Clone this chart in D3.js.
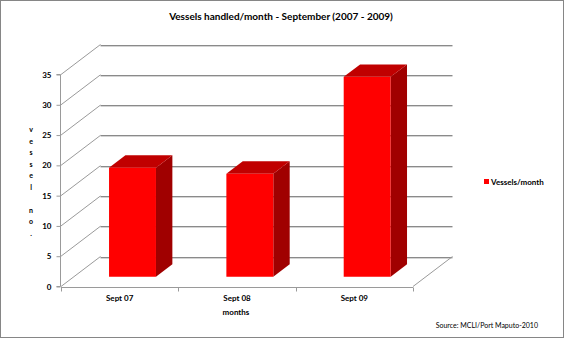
<!DOCTYPE html>
<html>
<head>
<meta charset="utf-8">
<script src="https://cdn.jsdelivr.net/npm/d3@7/dist/d3.min.js"></script>
<style>
  html, body { margin: 0; padding: 0; background: #fff; }
  svg { display: block; font-family: Lato, "Open Sans", "Liberation Sans", sans-serif; }
</style>
</head>
<body>
<svg id="chart" width="564" height="339"></svg>
<script>
// Data
const categories = ["Sept 07", "Sept 08", "Sept 09"];
const vessels = [18, 17, 33];
const yTicks = [0, 5, 10, 15, 20, 25, 30, 35];
const seriesName = "Vessels/month";
const titleText = "Vessels handled/month - September (2007 - 2009)";
const yTitle = "vessel no.";
const xTitle = "months";
const sourceText = "Source: MCLI/Port Maputo-2010";

const svg = d3.select("#chart");
const W = 564, H = 339;

// Outer frame
svg.append("rect")
  .attr("x", 0.5).attr("y", 0.5).attr("width", W - 1).attr("height", H - 2)
  .attr("fill", "#fff").attr("stroke", "#868686").attr("stroke-width", 1);

// 3D frame geometry: front plane and wall depth offset
const depth = { dx: 39.5, dy: -30 };
const x = d3.scaleBand().domain(categories).range([61, 413]).paddingInner(0).paddingOuter(0);
const y = d3.scaleLinear().domain([0, 35]).range([286.5, 74.5]);

const grid = svg.append("g");
const x0 = x.range()[0], x1 = x.range()[1];

// Back wall horizontal gridlines (with light shadow line) and left wall diagonals
yTicks.forEach(v => {
  const yy = Math.round(y(v) + depth.dy) + 0.5;
  grid.append("line")
    .attr("x1", x0 + depth.dx).attr("x2", x1 + depth.dx)
    .attr("y1", yy + 1).attr("y2", yy + 1)
    .attr("stroke", "#d4d4d4").attr("stroke-width", 1);
  grid.append("line")
    .attr("x1", x0 + depth.dx).attr("x2", x1 + depth.dx)
    .attr("y1", yy).attr("y2", yy)
    .attr("stroke", "#8a8a8a").attr("stroke-width", 1);
  grid.append("line")
    .attr("x1", x0).attr("y1", y(v))
    .attr("x2", x0 + depth.dx).attr("y2", y(v) + depth.dy)
    .attr("stroke", "#9a9a9a").attr("stroke-width", 1);
});

// Floor: right edge diagonal
grid.append("line")
  .attr("x1", x1).attr("y1", y(0))
  .attr("x2", x1 + depth.dx).attr("y2", y(0) + depth.dy)
  .attr("stroke", "#9a9a9a").attr("stroke-width", 1);

// Y axis (front left edge) with ticks
const yAxis = d3.axisLeft(y).tickValues(yTicks).tickSize(4).tickPadding(5);
const gy = svg.append("g").attr("transform", "translate(60.5,0)").call(yAxis);
gy.select(".domain").attr("stroke", "#9a9a9a").attr("d", `M-4,${y(0)}H0V${y(35)}H-4`);
gy.selectAll(".tick line").attr("stroke", "#9a9a9a");
gy.selectAll(".tick text")
  .attr("font-size", 8).attr("font-weight", "bold").attr("fill", "#000")
  .attr("font-family", "Lato, sans-serif");

// X axis (front floor edge) with boundary ticks
const gx = svg.append("g").attr("transform", `translate(0,${Math.round(y(0)) + 0.5})`);
gx.append("line").attr("x1", x0).attr("x2", x1).attr("y1", 0).attr("y2", 0)
  .attr("stroke", "#9a9a9a");
const bounds = categories.map(c => x(c)).concat([x1]);
gx.selectAll("line.tk").data(bounds).join("line").attr("class", "tk")
  .attr("x1", d => Math.round(d) + 0.5).attr("x2", d => Math.round(d) + 0.5)
  .attr("y1", 0).attr("y2", 4).attr("stroke", "#9a9a9a");
gx.selectAll("text").data(categories).join("text")
  .attr("x", d => x(d) + x.bandwidth() / 2)
  .attr("y", 13)
  .attr("text-anchor", "middle")
  .attr("font-size", 8).attr("font-weight", "bold").attr("fill", "#000")
  .text(d => d);

// 3D bars
const barW = x.bandwidth() * 0.4;
const dFront = 0.325, dBack = 0.74;
const fx = depth.dx * dFront, fy = depth.dy * dFront;
const bx = depth.dx * (dBack - dFront), by = depth.dy * (dBack - dFront);
const bars = svg.append("g");
categories.forEach((c, i) => {
  const left = x(c) + (x.bandwidth() - barW) / 2 + fx;
  const right = left + barW;
  const top = y(vessels[i]) + fy;
  const bottom = y(0) + fy;
  // side face
  bars.append("path")
    .attr("d", `M${right},${top}L${right + bx},${top + by}L${right + bx},${bottom + by}L${right},${bottom}Z`)
    .attr("fill", "#a00000");
  // top face
  bars.append("path")
    .attr("d", `M${left},${top}L${left + bx},${top + by}L${right + bx},${top + by}L${right},${top}Z`)
    .attr("fill", "#c00000");
  // front face
  bars.append("rect")
    .attr("x", left).attr("y", top).attr("width", barW).attr("height", bottom - top)
    .attr("fill", "#ff0000");
});

// Title
svg.append("text")
  .attr("x", 281).attr("y", 20)
  .attr("text-anchor", "middle")
  .attr("font-size", 10).attr("font-weight", "bold").attr("fill", "#000")
  .text(titleText);

// Y axis title, letters stacked vertically
const yt = svg.append("g");
yt.selectAll("text").data(yTitle.split("")).join("text")
  .attr("x", 31)
  .attr("y", (d, i) => 132 + i * 11.5)
  .attr("text-anchor", "middle")
  .attr("font-size", 7).attr("font-weight", "bold").attr("fill", "#000")
  .text(d => d);

// X axis title
svg.append("text")
  .attr("x", 236).attr("y", 315)
  .attr("text-anchor", "middle")
  .attr("font-size", 8).attr("font-weight", "bold").attr("fill", "#000")
  .text(xTitle);

// Legend
const lg = svg.append("g").attr("transform", "translate(484,179)");
lg.append("rect").attr("width", 5).attr("height", 5).attr("fill", "#ff0000");
lg.append("text").attr("x", 7).attr("y", 5.5)
  .attr("font-size", 8).attr("font-weight", "bold").attr("fill", "#000")
  .text(seriesName);

// Source note
svg.append("text")
  .attr("x", 538).attr("y", 328)
  .attr("text-anchor", "end")
  .attr("font-size", 7).attr("fill", "#000")
  .text(sourceText);
</script>
</body>
</html>
